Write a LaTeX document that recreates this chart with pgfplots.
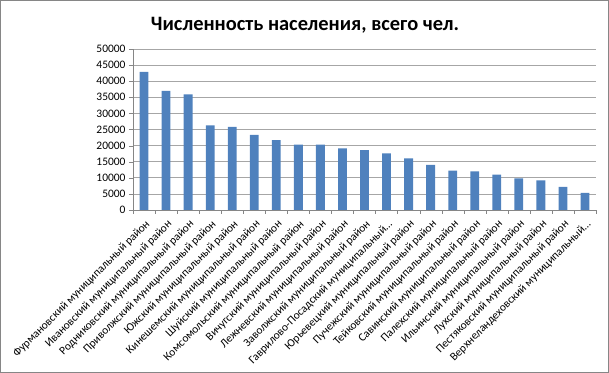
\documentclass[border=0pt]{standalone}
\usepackage{pgfplots}
\pgfplotsset{compat=1.18}
\usepackage{fontspec}
\setmainfont{Carlito}
\definecolor{barblue}{HTML}{4F81BD}
\definecolor{gridgray}{HTML}{A6A6A6}
\definecolor{axgray}{HTML}{868686}
\begin{document}
\begin{tikzpicture}
\useasboundingbox (0bp,0bp) rectangle (609bp,373bp);
\draw[axgray, line width=1bp] (0.5bp,0.5bp) rectangle (608.5bp,372.5bp);
\node[font=\fontsize{20.5}{22}\selectfont\bfseries] at (305bp,348bp) {Численность населения, всего чел.};
\begin{axis}[
  at={(133bp,163bp)}, anchor=south west,
  scale only axis, width=463bp, height=161bp,
  xmin=-0.5, xmax=20.5, ymin=0, ymax=50000,
  ytick={0,5000,...,50000},
  xtick={0,...,20},
  minor xtick={-0.5,0.5,...,20.5},
  major x tick style={draw=none},
  minor x tick style={axgray},
  y tick style={axgray},
  tick align=outside,
  major tick length=4bp, minor tick length=4bp,
  axis x line*=bottom, axis y line*=left,
  axis line style={axgray,-},
  ymajorgrids, grid style={gridgray, line width=0.8bp},
  scaled y ticks=false,
  /pgf/number format/assume math mode=true,
  yticklabel={\pgfmathprintnumber[fixed,1000 sep={}]{\tick}},
  yticklabel style={font=\fontsize{11.5}{12}\selectfont, black},
  xticklabel style={font=\fontsize{11.5}{12}\selectfont, black, rotate=45, anchor=east, inner sep=0bp, xshift=-3bp, yshift=-9bp},
  xticklabels={Фурмановский муниципальный район,Ивановский муниципальный район,Родниковский муниципальный район,Приволжский муниципальный район,Южский муниципальный район,Кинешемский муниципальный район,Шуйский муниципальный район,Комсомольский муниципальный район,Вичугский муниципальный район,Лежневский муниципальный район,Заволжский муниципальный район,{Гаврилово-Посадский муниципальный\ldots},Юрьевецкий муниципальный район,Пучежский муниципальный район,Тейковский муниципальный район,Савинский муниципальный район,Палехский муниципальный район,Ильинский муниципальный район,Лухский муниципальный район,Пестяковский муниципальный район,{Верхнеландеховский муниципальный\ldots}},
]
\addplot[ybar, bar width=0.4, fill=barblue, draw=none] coordinates {
(0,42900) (1,37000) (2,35900) (3,26300) (4,25800) (5,23300) (6,21700)
(7,20300) (8,20300) (9,19100) (10,18600) (11,17600) (12,16000) (13,14000)
(14,12200) (15,12000) (16,11000) (17,9800) (18,9200) (19,7200) (20,5300)
};
\end{axis}
\end{tikzpicture}
\end{document}
